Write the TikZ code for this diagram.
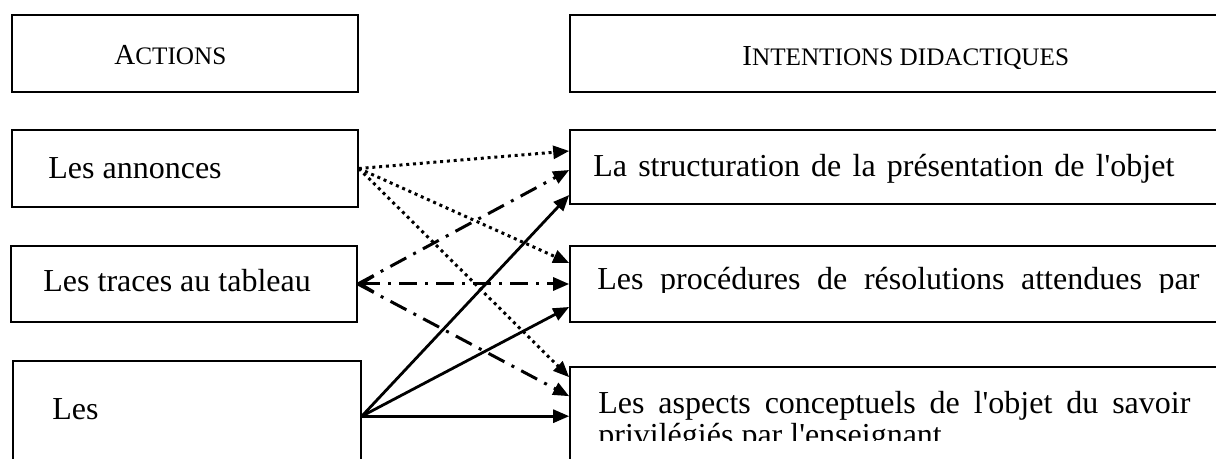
\documentclass[tikz,border=0pt]{standalone}
\usepackage{fontspec}
\setmainfont{Liberation Serif}
\usetikzlibrary{arrows.meta}

\newcommand{\pcap}[2]{{\fontsize{14.5}{17}\selectfont #1}{\fontsize{12.6}{15}\selectfont #2}}

\tikzset{
  box/.style={draw, line width=0.8pt, minimum width=173pt, minimum height=38.5pt, inner sep=0pt},
  widebox/.style={box, minimum width=340pt},
  txt/.style={anchor=base west, inner sep=0pt, font=\fontsize{16}{19}\selectfont},
  head/.style={anchor=base west, inner sep=0pt},
  dotarrow/.style={line width=1.5pt, dash pattern=on 1.5pt off 1.9pt, -{Triangle[length=8pt,width=6.5pt]}},
  dashdotarrow/.style={line width=1.5pt, dash pattern=on 9pt off 4pt on 1.5pt off 4pt, -{Triangle[length=8pt,width=6.5pt]}},
  solidarrow/.style={line width=1.4pt, -{Triangle[length=8pt,width=6.5pt]}}
}

\begin{document}
\begin{tikzpicture}[x=0.5pt, y=-0.5pt]
\clip (0,0) rectangle (1216,459);

% left column
\node[box] (actions) at (185,53.5) {};
\node[box] (ann) at (185,168.5) {};
\node[box, minimum height=38pt] (traces) at (184,284) {};
\node[box, minimum width=174pt, minimum height=69.5pt] (les) at (187,430.5) {};

% right column
\node[widebox] (intentions) at (910,53.5) {};
\node[widebox, minimum height=37pt] (struct) at (910,167) {};
\node[widebox, minimum height=38pt] (proc) at (910,284) {};
\node[widebox, minimum height=66.5pt] (asp) at (910,433.5) {};

% annonces
\draw[dotarrow] (ann.east) -- ([yshift=8pt]struct.west);
\draw[dotarrow] (ann.east) -- ([yshift=10.5pt]proc.west);
\draw[dotarrow] (ann.east) -- ([yshift=-5.5pt]asp.north west);

% traces au tableau
\draw[dashdotarrow] (traces.east) -- ([yshift=-1.5pt]struct.west);
\draw[dashdotarrow, {Straight Barb[length=6.5pt,width=8pt]}-{Triangle[length=8pt,width=6.5pt]}] (traces.east) -- (proc.west);
\draw[dashdotarrow] (traces.east) -- ([yshift=-15pt]asp.north west);

% les ...
\coordinate (lesout) at ([yshift=-28pt]les.north east);
\draw[solidarrow] (lesout) -- ([yshift=-14pt]struct.west);
\draw[solidarrow] (lesout) -- ([yshift=-11.5pt]proc.west);
\draw[solidarrow] (lesout) -- (lesout -| asp.west);

% texts
\node[head] (actxt) at (114,65) {\pcap{A}{CTIONS}};
\node[head] (intxt) at (742,66) {\pcap{I}{NTENTIONS DIDACTIQUES}};
\node[txt] (anntxt) at (48,179) {Les annonces};
\node[txt] (trtxt) at (43,292) {Les traces au tableau};
\node[txt] (lestxt) at (52,420) {Les};
\node[txt] (sttxt) at (593,177) {\makebox[290.5pt][s]{La structuration de la présentation de l\textquotesingle objet}};
\begin{scope}
\clip (570,246) rectangle (1216,293);
\node[txt] (prtxt) at (597,290) {\makebox[301pt][s]{Les procédures de résolutions attendues par}};
\end{scope}
\node[txt] (astxt) at (598,414) {\makebox[296pt][s]{Les aspects conceptuels de l\textquotesingle objet du savoir}};
\begin{scope}
\clip (570,367) rectangle (1216,441);
\node[txt] (astxtb) at (598,446) {privilégiés par l\textquotesingle enseignant};
\end{scope}
\end{tikzpicture}
\end{document}
